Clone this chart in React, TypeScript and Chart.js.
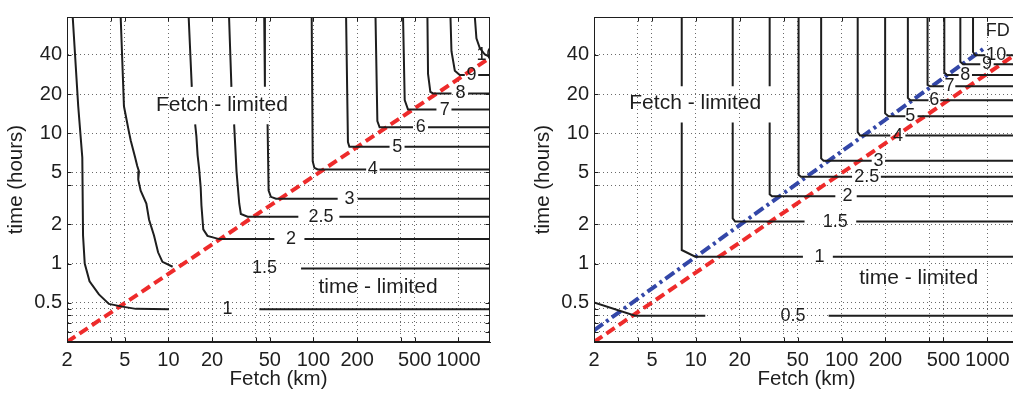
import React, { useEffect, useRef } from "react";
import { Chart, registerables } from "chart.js";

Chart.register(...registerables);

type P = [number, number] | null;

// ---------- axes ----------
const X_MIN = 2;
const X_MAX = 1650;
const Y_MIN = 0.25;
const Y_MAX = 78;
const X_GRID = [2, 4, 5, 10, 20, 40, 50, 100, 200, 400, 500, 1000];
const X_LABELS = [2, 5, 10, 20, 50, 100, 200, 500, 1000];
const Y_GRID = [0.3, 0.35, 0.4, 0.45, 0.5, 1, 2, 4, 5, 10, 20, 40];
const Y_LABELS = [0.5, 1, 2, 5, 10, 20, 40];
const X_TITLE = "Fetch (km)";
const Y_TITLE = "time (hours)";

// ---------- left panel contours: [fetch km, time h], null = gap ----------
const L_C1: P[] = [[2.19, 78], [2.39, 16.1], [2.55, 6.5], [2.58, 1.64], [2.65, 1.0], [2.86, 0.73], [3.32, 0.58], [3.89, 0.49], [4.81, 0.467], [5.96, 0.449], [10.1, 0.445], null, [42.4, 0.445], [1650, 0.445]];
const L_C15: P[] = [[4.69, 78], [4.94, 16.1], [5.35, 10.2], [5.5, 8.8], [5.9, 6.5], [6.1, 5.6], [6.27, 5.1], [6.2, 4.4], [6.44, 3.63], [7.05, 2.89], [7.36, 2.17], [7.96, 1.64], [8.49, 1.22], [9.1, 1.03], [10.7, 0.945], null, [82.2, 0.918], [1650, 0.918]];
const L_C2: P[] = [[13.8, 78], [14.5, 22.7], null, [15.3, 11.7], [15.6, 9.5], [15.9, 6.8], [16.3, 5.3], [16.7, 3.84], [16.9, 2.8], [17.4, 1.83], [18.6, 1.63], [22.4, 1.54], [53.8, 1.54], null, [86.7, 1.54], [1650, 1.54]];
const L_C25: P[] = [[26.2, 78], [27.2, 22.7], null, [28.4, 11.7], [29.5, 5.1], [30.8, 2.89], [31.6, 2.4], [35.2, 2.29], [78.7, 2.29], null, [151, 2.29], [1650, 2.29]];
const L_C3: P[] = [[45.8, 78], [46.3, 22.7], null, [48.3, 11.7], [49.1, 3.63], [50.9, 3.25], [55.2, 3.14], [147, 3.14], null, [202, 3.14], [1650, 3.14]];
const L_C4: P[] = [[97.3, 78], [98.9, 6.08], [101.6, 5.42], [107, 5.27], [231, 5.27], null, [286, 5.27], [1650, 5.27]];
const L_C5: P[] = [[168, 78], [173, 8.57], [177, 7.87], [335, 7.87], null, [425, 7.87], [1650, 7.87]];
const L_C6: P[] = [[268, 78], [276, 12.4], [286, 11.1], [486, 11.1], null, [617, 11.1], [1650, 11.1]];
const L_C7: P[] = [[415, 78], [426, 18], [449, 15.2], [705, 15.2], null, [895, 15.2], [1650, 15.2]];
const L_C8: P[] = [[611, 78], [617, 28.5], [640, 20.8], [668, 20.2], [895, 20.2], null, [1166, 20.2], [1650, 20.2]];
const L_C9: P[] = [[881, 78], [895, 42.6], [944, 30.2], [1021, 28], [1106, 28], null, [1368, 28], [1650, 28]];
const L_C10: P[] = [[1297, 78], [1330, 53.6], [1403, 45.1], [1520, 40.2], [1650, 38.5]];
const L_RED: P[] = [[2, 0.25], [1650, 38]];

const L_LABEL_TEXT = ["1", "1.5", "2", "2.5", "3", "4", "5", "6", "7", "8", "9", "10"];
const L_LABEL_X = [25.6, 46, 70, 113, 177, 257, 378, 549, 805, 1033, 1230, 1560];
const L_LABEL_Y = [0.445, 0.918, 1.54, 2.29, 3.14, 5.27, 7.87, 11.1, 15.2, 20.2, 28, 39.5];

const L_NOTE_TEXT = ["Fetch - limited", "time - limited"];
const L_NOTE_X = [23.4, 279];
const L_NOTE_Y = [16.5, 0.662];

// ---------- right panel contours ----------
const R_C05: P[] = [[2, 0.502], [3.83, 0.398], [11.6, 0.398], null, [81.5, 0.398], [1650, 0.398]];
const R_C1: P[] = [[8, 78], [8, 22.9], null, [8, 12.1], [8, 1.27], [9.9, 1.13], [54.3, 1.13], null, [87.1, 1.13], [1650, 1.13]];
const R_C15: P[] = [[17.9, 78], [17.9, 22.9], null, [17.9, 12.1], [17.9, 2.22], [18.6, 2.1], [55.7, 2.1], null, [126, 2.1], [1650, 2.1]];
const R_C2: P[] = [[32.1, 78], [32.1, 22.9], null, [32.1, 12.1], [32.1, 3.4], [33.3, 3.29], [90.6, 3.29], null, [127, 3.29], [1650, 3.29]];
const R_C25: P[] = [[50.7, 78], [50.7, 4.8], [52.6, 4.63], [118, 4.63], null, [186, 4.63], [1650, 4.63]];
const R_C3: P[] = [[72.4, 78], [72.4, 6.41], [75.2, 6.15], [161, 6.15], null, [199, 6.15], [1650, 6.15]];
const R_C4: P[] = [[129, 78], [129, 10.2], [134, 9.6], [216, 9.6], null, [274, 9.6], [1650, 9.6]];
const R_C5: P[] = [[199, 78], [199, 14.2], [210, 13.5], [274, 13.5], null, [332, 13.5], [1650, 13.5]];
const R_C6: P[] = [[285, 78], [285, 18.7], [296, 17.9], [395, 17.9], null, [476, 17.9], [1650, 17.9]];
const R_C7: P[] = [[389, 78], [389, 23.5], [406, 22.9], [502, 22.9], null, [603, 22.9], [1650, 22.9]];
const R_C8: P[] = [[507, 78], [507, 29.2], [529, 28], [636, 28], null, [785, 28], [1650, 28]];
const R_C9: P[] = [[653, 78], [653, 35.3], [681, 33.9], [895, 33.9], null, [1105, 33.9], [1650, 33.9]];
const R_C10: P[] = [[798, 78], [798, 42], [828, 39.6], [969, 39.6], null, [1350, 39.6], [1650, 39.6]];
const R_RED: P[] = [[2, 0.25], [1650, 42]];
const R_BLUE: P[] = [[2, 0.307], [944, 44.5]];

const R_LABEL_TEXT = ["0.5", "1", "1.5", "2", "2.5", "3", "4", "5", "6", "7", "8", "9", "10", "FD"];
const R_LABEL_X = [46.4, 70.6, 90.6, 110, 149, 179, 244, 296, 432, 551, 706, 995, 1153, 1178];
const R_LABEL_Y = [0.398, 1.13, 2.1, 3.29, 4.63, 6.15, 9.6, 13.5, 17.9, 22.9, 28, 33.9, 39.6, 61];

const R_NOTE_TEXT = ["Fetch - limited", "time - limited"];
const R_NOTE_X = [9.9, 338];
const R_NOTE_Y = [16.9, 0.766];

// ---------- styling ----------
const FONT = '"Liberation Sans", Arial, Helvetica, sans-serif';
const INK = "#1e1e1e";
const RED = "#ee2b2b";
const BLUE = "#3347a8";

const toXY = (pts: P[]) => {
  const out: { x: number; y: number | null }[] = [];
  let lastX = X_MIN;
  for (const p of pts) {
    if (p === null) out.push({ x: lastX, y: null });
    else {
      lastX = p[0];
      out.push({ x: p[0], y: p[1] });
    }
  }
  return out;
};

type Extra = { pts: P[]; color: string; dash: number[] };

function overlayPlugin(
  labels: { t: string[]; x: number[]; y: number[] },
  notes: { t: string[]; x: number[]; y: number[] }
) {
  return {
    id: "overlay",
    afterDatasetsDraw(chart: any) {
      const { ctx, chartArea: a, scales } = chart;
      const xs = scales.x;
      const ys = scales.y;
      ctx.save();
      ctx.beginPath();
      ctx.rect(a.left, a.top, a.right - a.left, a.bottom - a.top);
      ctx.clip();
      ctx.fillStyle = INK;
      ctx.textAlign = "center";
      ctx.textBaseline = "middle";
      ctx.font = `18px ${FONT}`;
      labels.t.forEach((s, i) => {
        ctx.fillText(s, xs.getPixelForValue(labels.x[i]), ys.getPixelForValue(labels.y[i]));
      });
      ctx.font = `21px ${FONT}`;
      notes.t.forEach((s, i) => {
        ctx.fillText(s, xs.getPixelForValue(notes.x[i]), ys.getPixelForValue(notes.y[i]));
      });
      ctx.restore();

      // frame + inward ticks
      ctx.save();
      ctx.strokeStyle = INK;
      ctx.lineWidth = 1;
      const L = Math.round(a.left) + 0.5;
      const R = Math.round(a.right) - 0.5;
      const T = Math.round(a.top) + 0.5;
      const B = Math.round(a.bottom) - 0.5;
      ctx.strokeRect(L, T, R - L, B - T);
      ctx.beginPath();
      X_GRID.forEach((v) => {
        const px = Math.round(xs.getPixelForValue(v)) + 0.5;
        ctx.moveTo(px, B);
        ctx.lineTo(px, B - 4);
        ctx.moveTo(px, T);
        ctx.lineTo(px, T + 4);
      });
      Y_GRID.forEach((v) => {
        const py = Math.round(ys.getPixelForValue(v)) + 0.5;
        ctx.moveTo(L, py);
        ctx.lineTo(L + 4, py);
        ctx.moveTo(R, py);
        ctx.lineTo(R - 4, py);
      });
      ctx.stroke();
      ctx.restore();
    },
  };
}

function buildChart(
  canvas: HTMLCanvasElement,
  contours: P[][],
  extras: Extra[],
  labels: { t: string[]; x: number[]; y: number[] },
  notes: { t: string[]; x: number[]; y: number[] },
  padTop: number
) {
  const datasets: any[] = contours.map((c) => ({
    data: toXY(c),
    borderColor: INK,
    borderWidth: 2,
    pointRadius: 0,
    tension: 0,
    spanGaps: false,
    fill: false,
  }));
  extras.forEach((e) =>
    datasets.push({
      data: toXY(e.pts),
      borderColor: e.color,
      borderWidth: 4,
      borderDash: e.dash,
      pointRadius: 0,
      tension: 0,
      fill: false,
    })
  );
  const tickFont = { family: FONT, size: 20 };
  const titleFont = { family: FONT, size: 20.5 };
  return new Chart(canvas, {
    type: "line",
    data: { datasets },
    options: {
      animation: false,
      responsive: false,
      devicePixelRatio: 1,
      layout: { padding: { left: 0, right: 15, top: padTop, bottom: 0 } },
      plugins: { legend: { display: false }, tooltip: { enabled: false } },
      scales: {
        x: {
          type: "logarithmic",
          min: X_MIN,
          max: X_MAX,
          afterBuildTicks: (s: any) => {
            s.ticks = X_GRID.map((v) => ({ value: v }));
          },
          afterFit: (s: any) => {
            s.height = 51;
          },
          ticks: {
            autoSkip: false,
            maxRotation: 0,
            padding: 6,
            color: INK,
            font: tickFont,
            callback: (v: any) => (X_LABELS.includes(Number(v)) ? String(v) : ""),
          },
          grid: { color: "#6a6a6a", lineWidth: 1, drawTicks: false },
          border: { display: true, color: INK, width: 1, dash: [1, 3] },
          title: { display: true, text: X_TITLE, color: INK, font: titleFont, padding: { top: 0, bottom: 1 } },
        },
        y: {
          type: "logarithmic",
          min: Y_MIN,
          max: Y_MAX,
          afterBuildTicks: (s: any) => {
            s.ticks = Y_GRID.map((v) => ({ value: v }));
          },
          afterFit: (s: any) => {
            s.width = 67;
          },
          ticks: {
            autoSkip: false,
            padding: 5,
            color: INK,
            font: tickFont,
            callback: (v: any) => (Y_LABELS.includes(Number(v)) ? String(v) : ""),
          },
          grid: { color: "#6a6a6a", lineWidth: 1, drawTicks: false },
          border: { display: true, color: INK, width: 1, dash: [1, 3] },
          title: { display: true, text: Y_TITLE, color: INK, font: titleFont, padding: { top: 4, bottom: 0 } },
        },
      },
    } as any,
    plugins: [overlayPlugin(labels, notes)],
  });
}

export default function App() {
  const leftRef = useRef<HTMLCanvasElement>(null);
  const rightRef = useRef<HTMLCanvasElement>(null);

  useEffect(() => {
    const left = buildChart(
      leftRef.current!,
      [L_C1, L_C15, L_C2, L_C25, L_C3, L_C4, L_C5, L_C6, L_C7, L_C8, L_C9, L_C10],
      [{ pts: L_RED, color: RED, dash: [10, 5] }],
      { t: L_LABEL_TEXT, x: L_LABEL_X, y: L_LABEL_Y },
      { t: L_NOTE_TEXT, x: L_NOTE_X, y: L_NOTE_Y },
      8
    );
    const right = buildChart(
      rightRef.current!,
      [R_C05, R_C1, R_C15, R_C2, R_C25, R_C3, R_C4, R_C5, R_C6, R_C7, R_C8, R_C9, R_C10],
      [
        { pts: R_RED, color: RED, dash: [10, 5] },
        { pts: R_BLUE, color: BLUE, dash: [11, 4, 3, 4] },
      ],
      { t: R_LABEL_TEXT, x: R_LABEL_X, y: R_LABEL_Y },
      { t: R_NOTE_TEXT, x: R_NOTE_X, y: R_NOTE_Y },
      10
    );
    return () => {
      left.destroy();
      right.destroy();
    };
  }, []);

  return (
    <div
      style={{
        position: "fixed",
        left: 0,
        top: 0,
        width: 1013,
        height: 393,
        overflow: "hidden",
        background: "#fff",
      }}
    >
      <canvas ref={leftRef} width={505} height={393} style={{ position: "absolute", left: 0, top: 0, width: 505, height: 393 }} />
      <canvas ref={rightRef} width={507} height={393} style={{ position: "absolute", left: 527, top: 0, width: 507, height: 393 }} />
    </div>
  );
}
